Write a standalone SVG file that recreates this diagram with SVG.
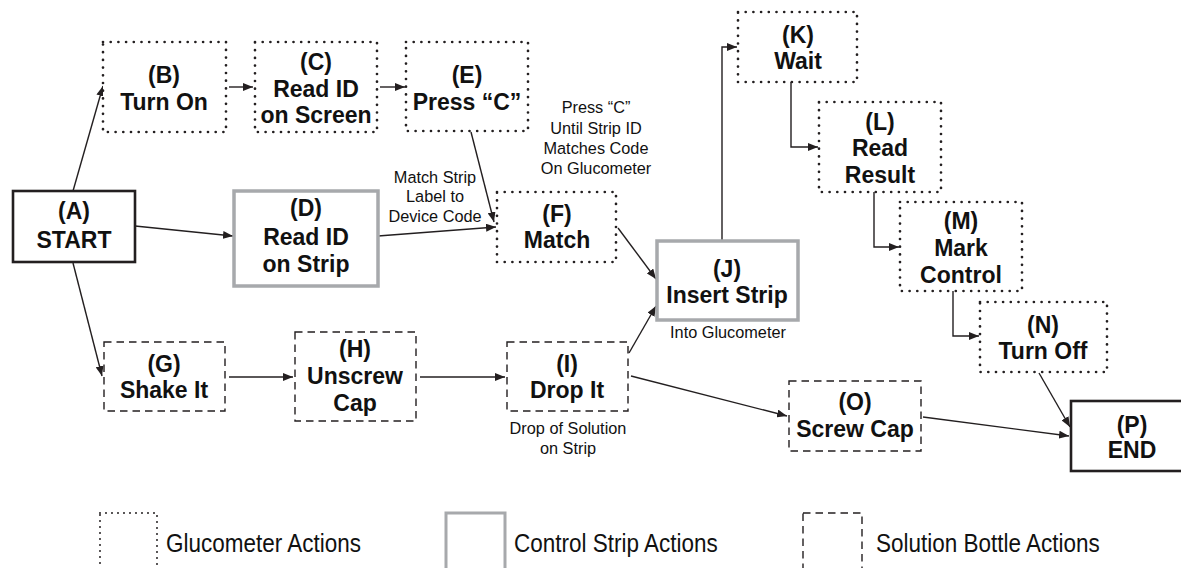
<svg xmlns="http://www.w3.org/2000/svg" width="1181" height="568" viewBox="0 0 1181 568">
  <style>
    .bg { fill: #ffffff; }
    .glu { fill: #ffffff; stroke: #231f20; stroke-width: 2.7; stroke-dasharray: 0 7.7; stroke-linecap: round; }
    .sol { fill: #ffffff; stroke: #231f20; stroke-width: 1.4; stroke-dasharray: 7.5 5; }
    .strip { fill: #ffffff; stroke: #a7a9ac; stroke-width: 3.5; }
    .term { fill: #ffffff; stroke: #231f20; stroke-width: 2.6; }
    .lbl { font-family: "Liberation Sans", Arial, sans-serif; font-weight: bold; font-size: 23px; fill: #111111; text-anchor: middle; }
    .note { font-family: "Liberation Sans", Arial, sans-serif; font-size: 16.3px; fill: #111111; text-anchor: middle; }
    .legend { font-family: "Liberation Sans", Arial, sans-serif; font-size: 22.5px; fill: #111111; }
    .conn { fill: none; stroke: #231f20; stroke-width: 1.4; marker-end: url(#arrow); }
  </style>
  <defs>
    <marker id="arrow" viewBox="0 0 10 8" refX="10" refY="4" markerWidth="10" markerHeight="8" markerUnits="userSpaceOnUse" orient="auto">
      <path d="M0,0 L10,4 L0,8 Z" fill="#231f20"/>
    </marker>
  </defs>

  <rect class="bg" x="0" y="0" width="1181" height="568"/>

  <!-- connectors -->
  <g id="connectors">
    <line class="conn" x1="73" y1="191" x2="103" y2="86"/>
    <line class="conn" x1="135" y1="226" x2="233" y2="236"/>
    <line class="conn" x1="73" y1="263" x2="102" y2="376"/>
    <line class="conn" x1="229" y1="87" x2="253" y2="87"/>
    <line class="conn" x1="380" y1="87" x2="405" y2="87"/>
    <line class="conn" x1="471" y1="132" x2="494" y2="222"/>
    <line class="conn" x1="378" y1="236" x2="496" y2="227"/>
    <line class="conn" x1="618" y1="228" x2="656" y2="279"/>
    <line class="conn" x1="629" y1="353" x2="656" y2="306"/>
    <polyline class="conn" points="722,241 722,47 737,47"/>
    <polyline class="conn" points="791,82 791,147 818,147"/>
    <polyline class="conn" points="874,192 874,247 899,247"/>
    <polyline class="conn" points="953,291 953,336 979,336"/>
    <line class="conn" x1="1039" y1="373" x2="1070" y2="427"/>
    <line class="conn" x1="923" y1="417" x2="1069" y2="436"/>
    <line class="conn" x1="631" y1="376" x2="787" y2="416"/>
    <line class="conn" x1="229" y1="377" x2="293" y2="377"/>
    <line class="conn" x1="420" y1="377" x2="505" y2="377"/>
  </g>

  <!-- connector notes -->
  <g id="notes">
    <text class="note" x="596" y="113">Press “C”</text>
    <text class="note" x="596" y="134">Until Strip ID</text>
    <text class="note" x="596" y="154">Matches Code</text>
    <text class="note" x="596" y="174">On Glucometer</text>
    <text class="note" x="435" y="183">Match Strip</text>
    <text class="note" x="435" y="202">Label to</text>
    <text class="note" x="435" y="222">Device Code</text>
    <text class="note" x="728" y="338">Into Glucometer</text>
    <text class="note" x="568" y="434">Drop of Solution</text>
    <text class="note" x="568" y="454">on Strip</text>
  </g>

  <!-- nodes -->
  <g id="node-A">
    <rect class="term" x="13" y="191" width="122" height="71"/>
    <text class="lbl" x="74" y="219">(A)</text>
    <text class="lbl" x="74" y="248">START</text>
  </g>
  <g id="node-B">
    <rect class="glu" x="103" y="42" width="123" height="90"/>
    <text class="lbl" x="164" y="83">(B)</text>
    <text class="lbl" x="164" y="110">Turn On</text>
  </g>
  <g id="node-C">
    <rect class="glu" x="255" y="42" width="122" height="90"/>
    <text class="lbl" x="316" y="70">(C)</text>
    <text class="lbl" x="316" y="97">Read ID</text>
    <text class="lbl" x="316" y="123">on Screen</text>
  </g>
  <g id="node-D">
    <rect class="strip" x="234" y="191" width="144" height="95"/>
    <text class="lbl" x="306" y="216">(D)</text>
    <text class="lbl" x="306" y="245">Read ID</text>
    <text class="lbl" x="306" y="272">on Strip</text>
  </g>
  <g id="node-E">
    <rect class="glu" x="406" y="42" width="122" height="89"/>
    <text class="lbl" x="467" y="83">(E)</text>
    <text class="lbl" x="467" y="110">Press “C”</text>
  </g>
  <g id="node-F">
    <rect class="glu" x="497" y="192" width="119" height="70"/>
    <text class="lbl" x="557" y="222">(F)</text>
    <text class="lbl" x="557" y="248">Match</text>
  </g>
  <g id="node-G">
    <rect class="sol" x="104" y="342" width="121" height="69"/>
    <text class="lbl" x="164" y="372">(G)</text>
    <text class="lbl" x="164" y="398">Shake It</text>
  </g>
  <g id="node-H">
    <rect class="sol" x="295" y="332" width="121" height="89"/>
    <text class="lbl" x="355" y="357">(H)</text>
    <text class="lbl" x="355" y="384">Unscrew</text>
    <text class="lbl" x="355" y="411">Cap</text>
  </g>
  <g id="node-I">
    <rect class="sol" x="507" y="342" width="121" height="69"/>
    <text class="lbl" x="567" y="372">(I)</text>
    <text class="lbl" x="567" y="398">Drop It</text>
  </g>
  <g id="node-J">
    <rect class="strip" x="657" y="241" width="141" height="79"/>
    <text class="lbl" x="727" y="277">(J)</text>
    <text class="lbl" x="727" y="303">Insert Strip</text>
  </g>
  <g id="node-K">
    <rect class="glu" x="738" y="12" width="119" height="70"/>
    <text class="lbl" x="798" y="43">(K)</text>
    <text class="lbl" x="798" y="69">Wait</text>
  </g>
  <g id="node-L">
    <rect class="glu" x="819" y="102" width="122" height="90"/>
    <text class="lbl" x="880" y="130">(L)</text>
    <text class="lbl" x="880" y="156">Read</text>
    <text class="lbl" x="880" y="183">Result</text>
  </g>
  <g id="node-M">
    <rect class="glu" x="900" y="202" width="122" height="89"/>
    <text class="lbl" x="961" y="229">(M)</text>
    <text class="lbl" x="961" y="256">Mark</text>
    <text class="lbl" x="961" y="283">Control</text>
  </g>
  <g id="node-N">
    <rect class="glu" x="980" y="302" width="127" height="70"/>
    <text class="lbl" x="1043" y="333">(N)</text>
    <text class="lbl" x="1043" y="359">Turn Off</text>
  </g>
  <g id="node-O">
    <rect class="sol" x="789" y="381" width="132" height="70"/>
    <text class="lbl" x="855" y="410">(O)</text>
    <text class="lbl" x="855" y="437">Screw Cap</text>
  </g>
  <g id="node-P">
    <rect class="term" x="1071" y="401" width="122" height="70"/>
    <text class="lbl" x="1132" y="433">(P)</text>
    <text class="lbl" x="1132" y="458">END</text>
  </g>

  <!-- legend -->
  <g id="legend">
    <rect class="glu" x="100" y="513" width="57" height="70" style="stroke-dasharray: 0 6; stroke-width: 2;"/>
    <text class="legend" transform="translate(166 552) scale(1 1.12)">Glucometer Actions</text>
    <rect class="strip" x="446" y="513" width="59" height="70" style="stroke-width: 3;"/>
    <text class="legend" transform="translate(514 552) scale(1 1.12)">Control Strip Actions</text>
    <rect class="sol" x="803" y="513" width="59" height="70"/>
    <text class="legend" transform="translate(876 552) scale(1 1.12)">Solution Bottle Actions</text>
  </g>
</svg>
